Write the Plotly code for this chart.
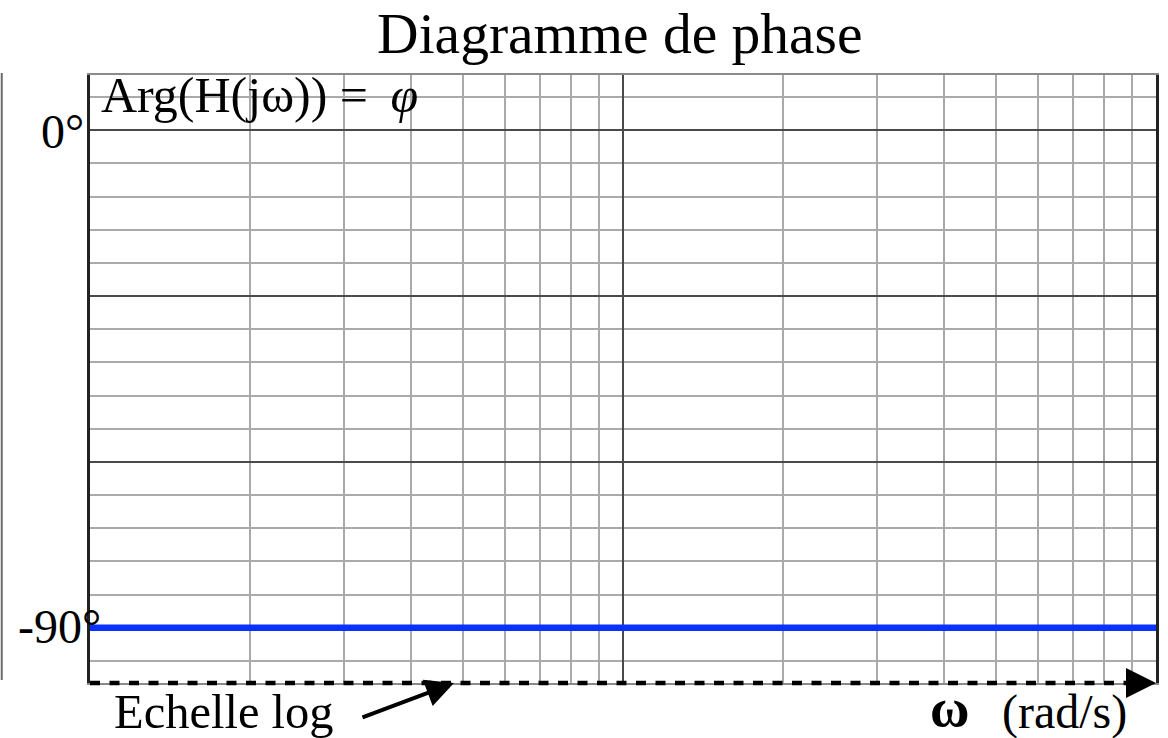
import plotly.graph_objects as go

# ---- data ----
omega = [1, 100]                 # rad/s (log scale, two decades)
phase = [-90, -90]               # degrees
x_major = [10]
x_minor = [2, 3, 4, 5, 6, 7, 8, 9, 20, 30, 40, 50, 60, 70, 80, 90]
y_label_vals = [0, -90]
y_label_text = ["0°", "-90°"]
title_text = "Diagramme de phase"
ylabel_text = "Arg(H(jω)) =\u00a0\u2009<i>φ</i>"
xscale_text = "Echelle log"
xunit_symbol = "<b>ω</b>"
xunit_text = "(rad/s)"

W, H = 1168, 738
L, R, T, B = 90, 9, 75, 55
PW, PH = W - L - R, H - T - B
FONT = "Liberation Serif"


def px(xp):
    return (xp - L) / PW


def py(yp):
    return (H - B - yp) / PH


fig = go.Figure()
fig.add_trace(go.Scatter(x=omega, y=phase, mode="lines",
                         line=dict(color="#0a32ff", width=6.5),
                         hoverinfo="skip", showlegend=False))

fig.update_layout(
    width=W, height=H,
    margin=dict(l=L, r=R, t=T, b=B),
    paper_bgcolor="white", plot_bgcolor="white",
    font=dict(family=FONT, color="black", size=48),
    title=dict(text=title_text, font=dict(family=FONT, size=57.5, color="black"),
               xref="paper", x=0.497, xanchor="center",
               yref="container", y=1 - 32.5 / H, yanchor="middle"),
    showlegend=False,
)

fig.update_xaxes(
    type="log", range=[0, 2],
    tickmode="array", tickvals=x_major, showticklabels=False, ticks="",
    showgrid=True, gridcolor="#4a4a4a", gridwidth=1.5,
    minor=dict(tickmode="array", tickvals=x_minor, showgrid=True,
               gridcolor="#aaaaaa", gridwidth=1.5, ticks=""),
    showline=True, linecolor="#8a8a8a", linewidth=1.5, mirror=True,
    zeroline=False, fixedrange=True,
)
fig.update_yaxes(
    range=[-100, 10],
    tickmode="linear", tick0=0, dtick=30, showticklabels=False, ticks="",
    showgrid=True, gridcolor="#4a4a4a", gridwidth=1.5,
    minor=dict(tickmode="linear", tick0=0, dtick=6, showgrid=True,
               gridcolor="#aaaaaa", gridwidth=1.5, ticks=""),
    showline=True, linecolor="#222222", linewidth=2.5, mirror=True,
    zeroline=False, fixedrange=True,
)

shapes = [
    # dashed log-scale axis
    dict(type="line", xref="paper", yref="paper", x0=0, x1=px(1140), y0=0, y1=0,
         line=dict(color="black", width=4.5, dash="10px,9.5px"), layer="above"),
    # page edge line at left
    dict(type="line", xref="paper", yref="paper", x0=px(1.5), x1=px(1.5),
         y0=py(680), y1=py(73), line=dict(color="#6a6a6a", width=2)),
]
fig.update_layout(shapes=shapes)

ann = []
# y labels
ann.append(dict(text=y_label_text[0], xref="paper", yref="paper",
                x=px(86), y=py(131.8), xanchor="right", yanchor="middle",
                showarrow=False, font=dict(size=48)))
ann.append(dict(text=y_label_text[1], xref="paper", yref="paper",
                x=px(103), y=py(626.8), xanchor="right", yanchor="middle",
                showarrow=False, font=dict(size=48)))
# y-axis quantity label
ann.append(dict(text=ylabel_text, xref="paper", yref="paper",
                x=px(99), y=py(94.5), xanchor="left", yanchor="middle",
                showarrow=False, font=dict(size=50)))
# Echelle log + arrow
ann.append(dict(text=xscale_text, xref="paper", yref="paper",
                x=px(112), y=py(711.8), xanchor="left", yanchor="middle",
                showarrow=False, font=dict(size=48.5)))
ann.append(dict(text="", xref="paper", yref="paper", x=px(455), y=py(683),
                showarrow=True, ax=-93, ay=35, arrowhead=2, arrowwidth=4,
                arrowsize=1.4, arrowcolor="black"))
# axis arrow
ann.append(dict(text="", xref="paper", yref="paper", x=px(1159), y=py(683),
                showarrow=True, ax=-26, ay=0, arrowhead=2, arrowwidth=2,
                arrowsize=3, arrowcolor="black"))
# omega (rad/s)
ann.append(dict(text=xunit_symbol, xref="paper", yref="paper",
                x=px(930), y=py(707.5), xanchor="left", yanchor="middle",
                showarrow=False, font=dict(size=54)))
ann.append(dict(text=xunit_text, xref="paper", yref="paper",
                x=px(1003), y=py(712.3), xanchor="left", yanchor="middle",
                showarrow=False, font=dict(size=48)))
fig.update_layout(annotations=ann)

fig.write_html("out.html", config=dict(displayModeBar=False))
